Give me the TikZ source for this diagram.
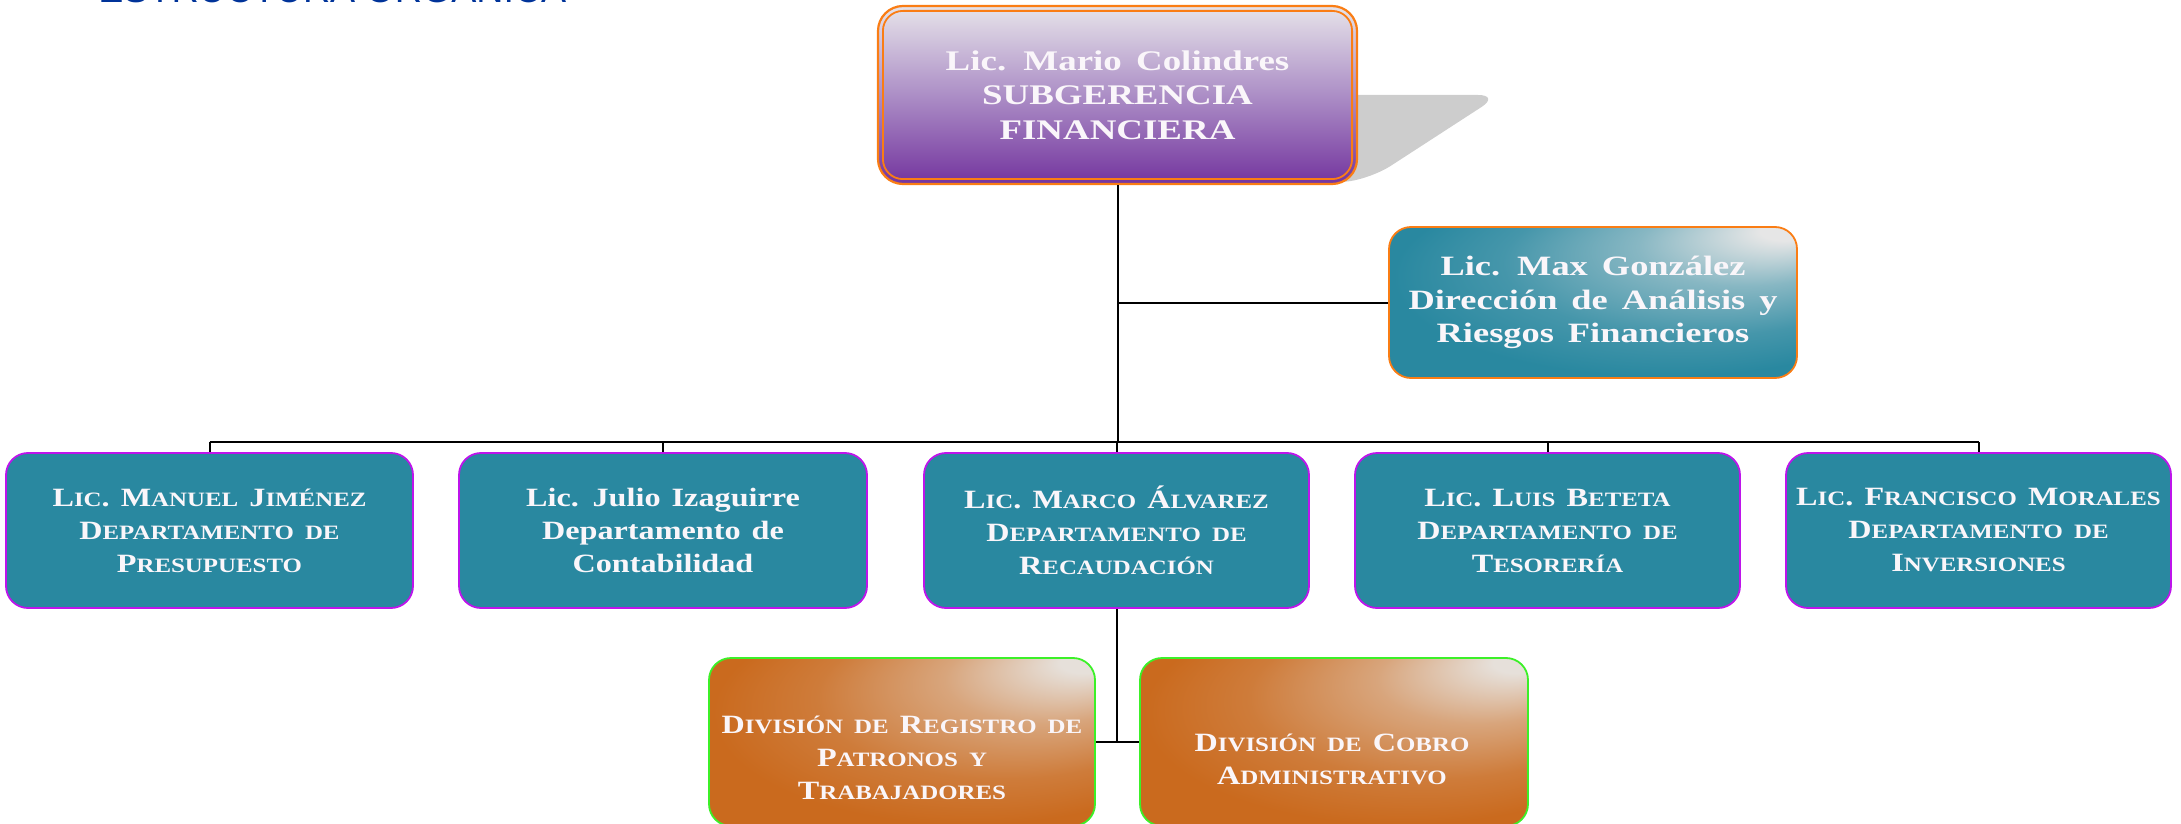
\documentclass[tikz,border=0pt]{standalone}
\usepackage{fontspec}
\setmainfont{Liberation Serif}
\newfontfamily\boxfont{Liberation Serif}[FakeStretch=1.22]
\newfontfamily\widefont{Liberation Serif}[FakeStretch=1.3]
\newfontfamily\titlefont{Liberation Sans}
\definecolor{orng}{RGB}{250,125,20}
\definecolor{purptop}{RGB}{228,224,232}
\definecolor{purpmid}{RGB}{172,142,198}
\definecolor{purpbot}{RGB}{118,56,160}
\definecolor{tealbase}{RGB}{41,136,160}
\definecolor{teallight}{RGB}{230,230,230}
\definecolor{magb}{RGB}{190,20,235}
\definecolor{orgbase}{RGB}{202,106,30}
\definecolor{orglight}{RGB}{230,224,218}
\definecolor{grn}{RGB}{60,240,40}
\definecolor{shadowgray}{RGB}{205,205,205}
\definecolor{titleblue}{RGB}{0,51,153}
\definecolor{txtwhite}{RGB}{250,246,250}
\pgfdeclareverticalshading{purpshade}{100bp}{color(0bp)=(purpbot); color(26bp)=(purpbot); color(50bp)=(purpmid); color(74bp)=(purptop); color(100bp)=(purptop)}
\pgfdeclareradialshading{tealglow}{\pgfpoint{25bp}{25bp}}{color(0bp)=(teallight); color(3bp)=(teallight); color(13bp)=(tealbase!50!teallight); color(24bp)=(tealbase!85!teallight); color(33bp)=(tealbase); color(50bp)=(tealbase)}
\pgfdeclareradialshading{orgglow}{\pgfpoint{25bp}{25bp}}{color(0bp)=(orglight); color(3bp)=(orglight); color(13bp)=(orgbase!50!orglight); color(24bp)=(orgbase!85!orglight); color(33bp)=(orgbase); color(50bp)=(orgbase)}
\newcommand{\sm}[1]{{\fontsize{10.2pt}{10pt}\selectfont #1}}
\newcommand{\bxfont}{\boxfont\bfseries\fontsize{13.2pt}{16.5pt}\selectfont\spaceskip 0.42em\relax}
\newcommand{\topfont}{\widefont\bfseries\fontsize{14.2pt}{17.3pt}\selectfont\spaceskip 0.5em\relax}
\newcommand{\maxfont}{\widefont\bfseries\fontsize{14pt}{16.6pt}\selectfont\spaceskip 0.5em\relax}
\newcommand{\ttlfont}{\titlefont\fontsize{18.8pt}{20pt}\selectfont}
\tikzset{
  conn/.style={line width=1pt, draw=black},
  boxtxt/.style={text=txtwhite, align=center, inner sep=0pt, font=\bxfont},
  topbox/.style={boxtxt, font=\topfont, shade, shading=purpshade, draw=orng, line width=1.1pt,
    rounded corners=12.5pt, minimum width=239.5pt, minimum height=89pt},
  maxbox/.style={boxtxt, font=\maxfont, shade, shading=tealglow, draw=orng, line width=0.9pt,
    rounded corners=11pt, minimum width=204pt, minimum height=75.5pt},
  deptbox/.style={boxtxt, fill=tealbase, draw=magb, line width=0.9pt,
    rounded corners=11pt, minimum height=77.5pt},
  divbox/.style={shade, shading=orgglow, draw=grn, line width=0.9pt,
    rounded corners=11pt, minimum height=84pt, inner sep=0pt},
}
\begin{document}
\begin{tikzpicture}[x=0.5pt, y=-0.5pt]
\useasboundingbox (0,0) rectangle (2181,824);
% title (cut by the page top)
\node[anchor=base west, inner sep=0pt, text=titleblue, font=\ttlfont] (title) at (98,3) {ESTRUCTURA ORGANICA};
% shadow of top box
\fill[shadowgray, rounded corners=11pt] (1300,95) -- (1500,95) -- (1372,178) -- (1330,184) -- (1300,184) -- cycle;
% top box
\node[topbox] (top) at (1117.5,95) {Lic. Mario Colindres\\SUBGERENCIA\\FINANCIERA};
\draw[orng, line width=0.9pt, rounded corners=10pt] ([xshift=3pt,yshift=-3pt]top.north west) rectangle ([xshift=-3pt,yshift=3pt]top.south east);
% staff box
\node[maxbox] (max) at (1593,302.5) {Lic. Max González\\Dirección de Análisis y\\Riesgos Financieros};
% departments
\node[deptbox, minimum width=203.5pt] (b1) at (209.5,530.5) {L\sm{IC}. M\sm{ANUEL} J\sm{IMÉNEZ}\\D\sm{EPARTAMENTO} \sm{DE}\\P\sm{RESUPUESTO}};
\node[deptbox, minimum width=204pt] (b2) at (663,530.5) {Lic. Julio Izaguirre\\Departamento de\\Contabilidad};
\node[deptbox, minimum width=192.5pt] (b3) at (1116.5,530.5) {L\sm{IC}. M\sm{ARCO} Á\sm{LVAREZ}\\D\sm{EPARTAMENTO} \sm{DE}\\R\sm{ECAUDACIÓN}};
\node[deptbox, minimum width=192.5pt] (b4) at (1547.5,530.5) {L\sm{IC}. L\sm{UIS} B\sm{ETETA}\\D\sm{EPARTAMENTO} \sm{DE}\\T\sm{ESORERÍA}};
\node[deptbox, minimum width=192.5pt] (b5) at (1978.5,530.5) {L\sm{IC}. F\sm{RANCISCO} M\sm{ORALES}\\D\sm{EPARTAMENTO} \sm{DE}\\I\sm{NVERSIONES}};
% divisions
\node[divbox, minimum width=193pt] (b6) at (902,742) {};
\node[divbox, minimum width=194pt] (b7) at (1334,742) {};
\node[boxtxt] (b6t) at (902,758) {D\sm{IVISIÓN} \sm{DE} R\sm{EGISTRO} \sm{DE}\\P\sm{ATRONOS} \sm{Y}\\T\sm{RABAJADORES}};
\node[boxtxt] (b7t) at (1332,759) {D\sm{IVISIÓN} \sm{DE} C\sm{OBRO}\\A\sm{DMINISTRATIVO}};
% connectors
\coordinate (busM) at (1117.5,442);
\draw[conn] (top.south) -- (busM);
\draw[conn] (top.south |- max.west) -- (max.west);
\draw[conn] (b1.north |- busM) -- (b5.north |- busM);
\foreach \n in {b1,b2,b3,b4,b5} \draw[conn] (\n.north |- busM) -- (\n.north);
\draw[conn] (b3.south) -- (b3.south |- b6.east);
\draw[conn] (b6.east) -- (b7.west);
\end{tikzpicture}
\end{document}
